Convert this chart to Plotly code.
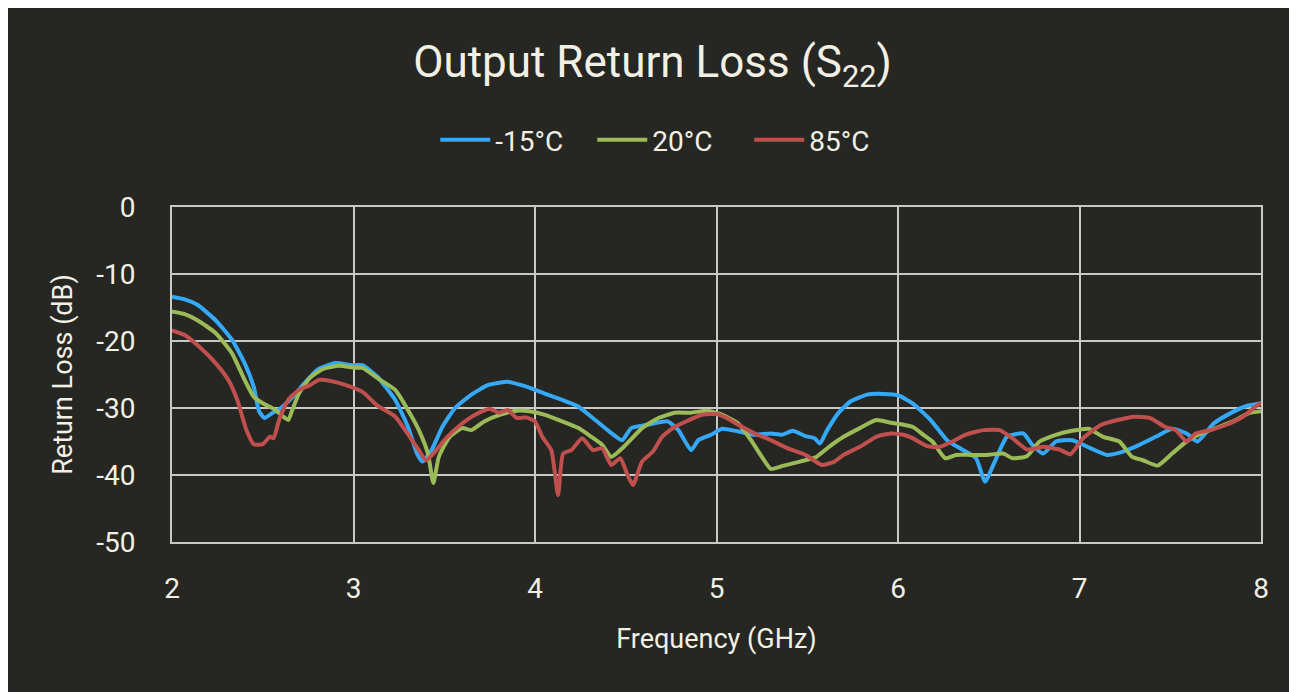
import plotly.graph_objects as go

# ---------------------------------------------------------------------------
# Data
# ---------------------------------------------------------------------------

FREQ_M15 = [2.00, 2.07, 2.14, 2.24, 2.33, 2.40, 2.45, 2.48, 2.51, 2.55, 2.60, 2.66,
            2.73, 2.80, 2.90, 2.99, 3.05, 3.13, 3.23, 3.30, 3.35, 3.38, 3.43, 3.49,
            3.56, 3.65, 3.74, 3.85, 3.94, 4.05, 4.15, 4.24, 4.31, 4.40, 4.48, 4.53,
            4.62, 4.73, 4.79, 4.86, 4.90, 4.97, 5.03, 5.12, 5.21, 5.30, 5.36, 5.42,
            5.49, 5.54, 5.57, 5.61, 5.67, 5.74, 5.83, 5.92, 6.00, 6.08, 6.18, 6.27,
            6.36, 6.43, 6.48, 6.53, 6.60, 6.69, 6.74, 6.80, 6.87, 6.96, 7.06, 7.15,
            7.24, 7.33, 7.42, 7.51, 7.59, 7.65, 7.74, 7.83, 7.92, 8.00]
RL_M15 = [-13.4, -13.8, -14.6, -16.9, -19.8, -23.3, -26.8, -30.5, -31.5, -30.8, -30.0, -28.5,
          -26.3, -24.3, -23.3, -23.6, -23.6, -25.3, -28.8, -32.8, -36.8, -38.0, -36.3, -32.8,
          -30.0, -28.0, -26.6, -26.1, -26.7, -27.8, -28.8, -29.8, -31.3, -33.3, -34.8, -33.0,
          -32.5, -32.0, -33.3, -36.3, -34.8, -34.0, -33.1, -33.5, -34.0, -33.8, -34.0, -33.4,
          -34.2, -34.5, -35.3, -33.3, -30.8, -29.0, -28.0, -27.9, -28.1, -29.3, -31.8, -34.8,
          -36.3, -37.5, -41.0, -38.2, -34.3, -33.8, -35.5, -36.8, -35.0, -34.8, -36.0, -37.0,
          -36.5, -35.5, -34.3, -33.1, -33.8, -35.0, -32.3, -30.8, -29.7, -29.3]

FREQ_20 = [2.00, 2.07, 2.14, 2.24, 2.33, 2.40, 2.45, 2.50, 2.57, 2.64, 2.66, 2.70,
           2.76, 2.83, 2.92, 3.01, 3.05, 3.13, 3.23, 3.30, 3.36, 3.41, 3.44, 3.47,
           3.53, 3.60, 3.65, 3.72, 3.81, 3.90, 3.97, 4.05, 4.15, 4.24, 4.31, 4.37,
           4.42, 4.50, 4.59, 4.68, 4.77, 4.86, 4.95, 5.03, 5.12, 5.19, 5.25, 5.30,
           5.37, 5.46, 5.55, 5.62, 5.70, 5.79, 5.88, 5.96, 6.03, 6.08, 6.14, 6.19,
           6.26, 6.32, 6.40, 6.49, 6.58, 6.63, 6.71, 6.78, 6.87, 6.96, 7.05, 7.13,
           7.22, 7.29, 7.35, 7.43, 7.51, 7.59, 7.68, 7.77, 7.86, 7.93, 8.00]
RL_20 = [-15.6, -16.0, -16.9, -18.8, -21.8, -25.8, -28.3, -29.3, -30.3, -31.8, -30.5, -27.8,
         -25.5, -24.2, -23.7, -24.0, -24.0, -25.5, -27.3, -30.3, -33.3, -36.8, -41.2, -37.3,
         -34.3, -33.0, -33.3, -32.0, -31.0, -30.4, -30.5, -31.0, -32.0, -33.0, -34.3, -35.5,
         -37.3, -35.5, -33.0, -31.5, -30.7, -30.7, -30.4, -31.0, -32.3, -34.8, -37.3, -39.1,
         -38.6, -38.0, -37.3, -35.8, -34.3, -33.0, -31.8, -32.2, -32.5, -32.8, -34.0, -35.0,
         -37.5, -37.0, -37.0, -37.0, -36.8, -37.5, -37.2, -35.0, -34.0, -33.4, -33.1, -34.3,
         -35.0, -37.3, -37.8, -38.6, -36.8, -35.0, -33.7, -32.8, -31.8, -30.8, -30.5]

FREQ_85 = [2.00, 2.07, 2.14, 2.24, 2.31, 2.36, 2.41, 2.45, 2.50, 2.54, 2.56, 2.59,
           2.64, 2.70, 2.76, 2.81, 2.88, 2.95, 3.05, 3.13, 3.23, 3.31, 3.36, 3.40,
           3.45, 3.51, 3.59, 3.67, 3.75, 3.80, 3.85, 3.90, 3.95, 4.00, 4.04, 4.09,
           4.127, 4.155, 4.20, 4.26, 4.32, 4.37, 4.42, 4.47, 4.51, 4.54, 4.59, 4.65,
           4.70, 4.77, 4.85, 4.92, 5.00, 5.05, 5.12, 5.21, 5.30, 5.39, 5.49, 5.58,
           5.65, 5.70, 5.79, 5.88, 5.96, 6.03, 6.08, 6.16, 6.23, 6.30, 6.37, 6.47,
           6.56, 6.63, 6.71, 6.80, 6.89, 6.95, 7.02, 7.12, 7.21, 7.30, 7.39, 7.47,
           7.53, 7.59, 7.64, 7.72, 7.81, 7.90, 7.97, 8.00]
RL_85 = [-18.4, -19.1, -20.6, -23.3, -25.8, -28.8, -33.3, -35.4, -35.4, -34.3, -34.5, -31.8,
         -28.8, -27.3, -26.6, -25.8, -26.0, -26.5, -27.6, -29.6, -31.3, -34.3, -36.3, -37.8,
         -36.5, -34.5, -32.5, -31.0, -30.1, -30.7, -30.3, -31.5, -31.4, -32.0, -34.3, -36.3,
         -43.0, -36.8, -36.3, -34.5, -36.3, -36.0, -38.5, -37.5, -40.0, -41.5, -38.0, -36.5,
         -34.3, -32.8, -31.8, -31.0, -30.9, -31.4, -32.5, -33.8, -34.8, -36.0, -37.0, -38.5,
         -38.0, -37.0, -35.8, -34.3, -33.8, -34.0, -34.5, -35.7, -35.8, -35.0, -34.0, -33.3,
         -33.3, -34.5, -36.2, -35.8, -36.2, -36.9, -34.5, -32.5, -31.8, -31.3, -31.5, -32.8,
         -33.3, -35.0, -33.8, -33.3, -32.5, -31.3, -29.8, -29.2]

SERIES_NAMES = ["-15°C", "20°C", "85°C"]
X_TICKS = [2, 3, 4, 5, 6, 7, 8]
Y_TICKS = [0, -10, -20, -30, -40, -50]
Y_TICK_LABELS = ["0", "-10", "-20", "-30", "-40", "-50"]

# ---------------------------------------------------------------------------
# Styling
# ---------------------------------------------------------------------------

BG_COLOR = "#262622"
TEXT_COLOR = "#f2f0e4"
GRID_COLOR = "#c8c8c4"
COLORS = ["#35a9f8", "#9bbb59", "#c0504d"]
FONT = "Roboto, sans-serif"

fig = go.Figure()

for name, xs, ys, color in zip(
    SERIES_NAMES,
    [FREQ_M15, FREQ_20, FREQ_85],
    [RL_M15, RL_20, RL_85],
    COLORS,
):
    fig.add_trace(
        go.Scatter(
            x=xs,
            y=ys,
            name=name,
            mode="lines",
            line=dict(color=color, width=4, shape="spline", smoothing=0.5),
        )
    )

# the page body adds an 8px margin, so the figure is sized to fit inside it
fig.update_layout(
    width=1289,
    height=684,
    paper_bgcolor=BG_COLOR,
    plot_bgcolor=BG_COLOR,
    font=dict(family=FONT, color=TEXT_COLOR, size=26),
    title=dict(
        text="Output Return Loss (S<sub>22</sub>)",
        font=dict(size=44, color=TEXT_COLOR, family=FONT),
        x=0.5,
        xanchor="center",
        y=0.921,
        yanchor="middle",
    ),
    legend=dict(
        orientation="h",
        x=0.458,
        xanchor="center",
        y=1.2,
        yanchor="middle",
        font=dict(size=28, color=TEXT_COLOR),
        bgcolor="rgba(0,0,0,0)",
        itemwidth=50,
        entrywidth=92,
        entrywidthmode="pixels",
    ),
    margin=dict(l=164, r=36, t=199, b=150),
    xaxis=dict(
        range=[2, 8],
        tickvals=X_TICKS,
        showgrid=True,
        gridcolor=GRID_COLOR,
        gridwidth=2,
        zeroline=False,
        showline=True,
        linecolor=GRID_COLOR,
        linewidth=2,
        mirror=True,
        ticks="",
        ticklabelstandoff=20,
        tickfont=dict(size=28),
        title=dict(text="Frequency (GHz)", font=dict(size=27), standoff=26),
    ),
    yaxis=dict(
        range=[-50, 0],
        tickvals=Y_TICKS,
        ticktext=Y_TICK_LABELS,
        showgrid=True,
        gridcolor=GRID_COLOR,
        gridwidth=2,
        zeroline=False,
        showline=True,
        linecolor=GRID_COLOR,
        linewidth=2,
        mirror=True,
        ticks="",
        ticklabelstandoff=29,
        tickfont=dict(size=28),
        title=dict(text="Return Loss (dB)", font=dict(size=27), standoff=16),
    ),
)

fig.write_html("out.html")
